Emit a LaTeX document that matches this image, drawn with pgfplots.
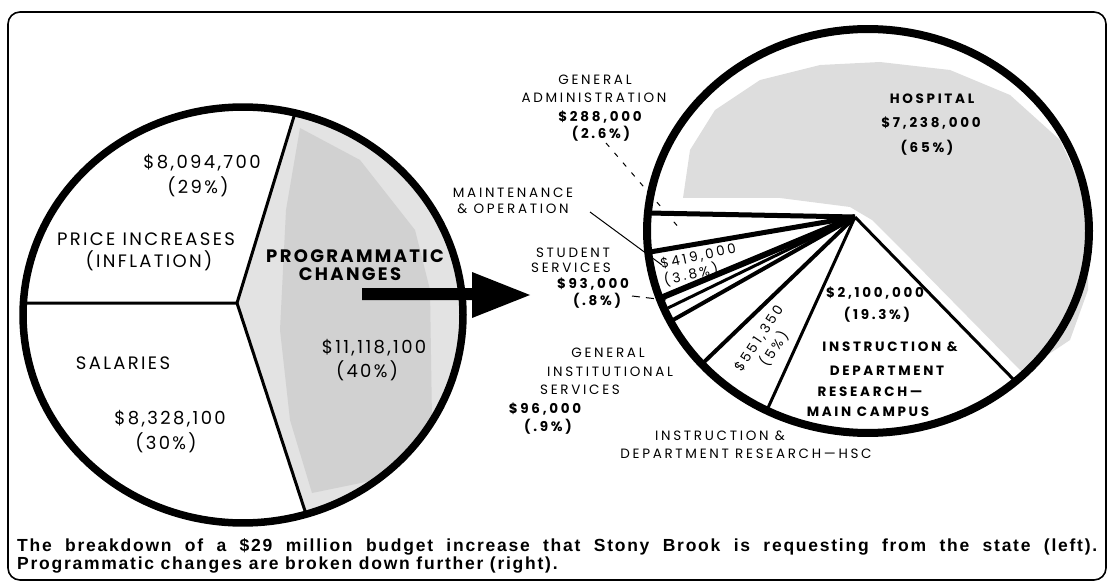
\documentclass[border=0pt]{standalone}
\usepackage{fontspec}
\usepackage{pgfplots}
\pgfplotsset{compat=1.18}
\newfontfamily\popA[LetterSpace=13]{Poppins}
\newfontfamily\popB[LetterSpace=20]{Poppins}
\newfontfamily\capfont[LetterSpace=10]{Liberation Sans}
\tikzset{
  big/.style={font=\popA\fontsize{18}{18}\selectfont, inner sep=0pt, text height=12.5pt, text depth=0pt},
  bigb/.style={font=\popA\bfseries\fontsize{18}{18}\selectfont, inner sep=0pt, text height=12.5pt, text depth=0pt},
  sm/.style={font=\popB\fontsize{13.5}{13.5}\selectfont, inner sep=0pt, text height=9.5pt, text depth=0pt},
  smb/.style={font=\popB\bfseries\fontsize{13.5}{13.5}\selectfont, inner sep=0pt, text height=9.5pt, text depth=0pt},
}
\begin{document}
\begin{tikzpicture}
\begin{axis}[x=1pt, y=1pt, xmin=0, xmax=1118, ymin=0, ymax=585, y dir=reverse,
  hide axis, clip=false]
\addplot[draw=none, forget plot] coordinates {(0,0) (1118,585)};

% ---------------- LEFT PIE (boundaries at 76.3, 176.7, 286.6 deg) ----------------
% Programmatic changes wedge (40%)
\addplot[fill=gray!22, draw=none, domain=286.6:436.3, samples=80, variable=\t]
  ({243+220*cos(t)}, {315-208*sin(t)}) -- (237,303) -- cycle;
\addplot[fill=gray!36, draw=none] coordinates {(300,128) (360,160) (415,230) (430,290) (432,420) (385,478) (312,493) (290,420) (280,330) (286,210)};
% radial lines
\addplot[line width=3pt] coordinates {(295,113) (237,303) (23,303)};
\addplot[line width=3pt] coordinates {(237,303) (306,514)};
% outline
\addplot[line width=7.5pt, domain=0:360, samples=180, variable=\t]
  ({243+220*cos(t)}, {315-208*sin(t)});

% ---------------- RIGHT PIE ----------------
% hospital shading
\addplot[fill=gray!27, draw=none] coordinates {(683,198) (690,150) (715,110) (760,80) (820,65) (880,62) (950,70) (1010,95) (1060,140) (1088,200) (1088,290) (1070,340) (1022,372) (910,258) (872,220) (850,207) (780,198)};
% radial lines
\addplot[line width=5pt] coordinates {(648,213) (855,217)};
\addplot[line width=5pt] coordinates {(650,252) (855,217)};
\addplot[line width=6pt] coordinates {(663,297) (855,217)};
\addplot[line width=3pt] coordinates {(668,308) (855,217)};
\addplot[line width=4pt] coordinates {(673,320) (855,217)};
\addplot[line width=4pt] coordinates {(703,363) (855,217)};
\addplot[line width=3pt] coordinates {(767,410) (855,217)};
\addplot[line width=3pt] coordinates {(1014,380) (855,217)};
% outline
\addplot[line width=8pt, domain=0:360, samples=180, variable=\t]
  ({868+221*cos(t)}, {231-202*sin(t)});

% leaders
\addplot[line width=1pt, dash pattern=on 5pt off 8pt] coordinates {(606,143) (680,229)};
\addplot[line width=1pt] coordinates {(590,212) (662,265)};
\addplot[line width=1pt, dash pattern=on 8pt off 6pt] coordinates {(632,296) (666,300)};

% arrow
\addplot[fill=black, draw=none] coordinates {(362,288) (472,288) (472,272) (530,295) (472,318) (472,300) (362,300)};

% ---------------- LABELS LEFT ----------------
\node[big] at (202,162) {\$8,094,700};
\node[big] at (198,187) {(29\%)};
\node[big] at (146,239) {PRICE INCREASES};
\node[big] at (149,261) {(INFLATION)};
\node[bigb] at (355,256) {PROGRAMMATIC};
\node[bigb] at (350,274) {CHANGES};
\node[big] at (123,363) {SALARIES};
\node[big] at (170,418) {\$8,328,100};
\node[big] at (166,443) {(30\%)};
\node[big] at (374,347) {\$11,118,100};
\node[big] at (367,371) {(40\%)};

% ---------------- LABELS RIGHT ----------------
\node[sm] at (595,80) {GENERAL};
\node[sm] at (594,98) {ADMINISTRATION};
\node[smb] at (600,117) {\$288,000};
\node[smb] at (601,134) {(2.6\%)};
\node[sm] at (513,193) {MAINTENANCE};
\node[sm] at (513,209) {\& OPERATION};
\node[sm] at (573,253) {STUDENT};
\node[sm] at (571,268) {SERVICES};
\node[smb] at (593,284) {\$93,000};
\node[smb] at (597,301) {(.8\%)};
\node[sm] at (608,353) {GENERAL};
\node[sm] at (610,372) {INSTITUTIONAL};
\node[sm] at (580,390) {SERVICES};
\node[smb] at (545,409) {\$96,000};
\node[smb] at (548,427) {(.9\%)};
\node[sm] at (720,436) {INSTRUCTION \&};
\node[sm] at (746,454) {DEPARTMENT RESEARCH—HSC};
\node[sm, rotate=56, align=center, text height=, text depth=, inner sep=0pt] at (767,344) {\$551,350\\[3pt](5\%)};
\node[sm, rotate=12, align=left, text height=, text depth=, inner sep=0pt] at (700,265) {\$419,000\\[1pt](3.8\%)};
\node[smb] at (875,293) {\$2,100,000};
\node[smb] at (877,315) {(19.3\%)};
\node[smb] at (890,347) {INSTRUCTION \&};
\node[smb] at (887,371) {DEPARTMENT};
\node[smb] at (870,392) {RESEARCH—};
\node[smb] at (868,412) {MAIN CAMPUS};
\node[smb] at (932,99) {HOSPITAL};
\node[smb] at (931,123) {\$7,238,000};
\node[smb] at (927,148) {(65\%)};

% caption
\node[anchor=base west, inner sep=0pt, font=\capfont\bfseries\fontsize{17.5}{17.5}\selectfont] at (17,551)
  {\makebox[1080pt][s]{The breakdown of a \$29 million budget increase that Stony Brook is requesting from the state (left).}};
\node[anchor=base west, inner sep=0pt, font=\capfont\bfseries\fontsize{17.5}{17.5}\selectfont] at (17,569.5)
  {Programmatic changes are broken down further (right).};

% frame
\draw[line width=1.6pt, rounded corners=12pt] (8,12) rectangle (1106,580);
\end{axis}
\end{tikzpicture}
\end{document}
